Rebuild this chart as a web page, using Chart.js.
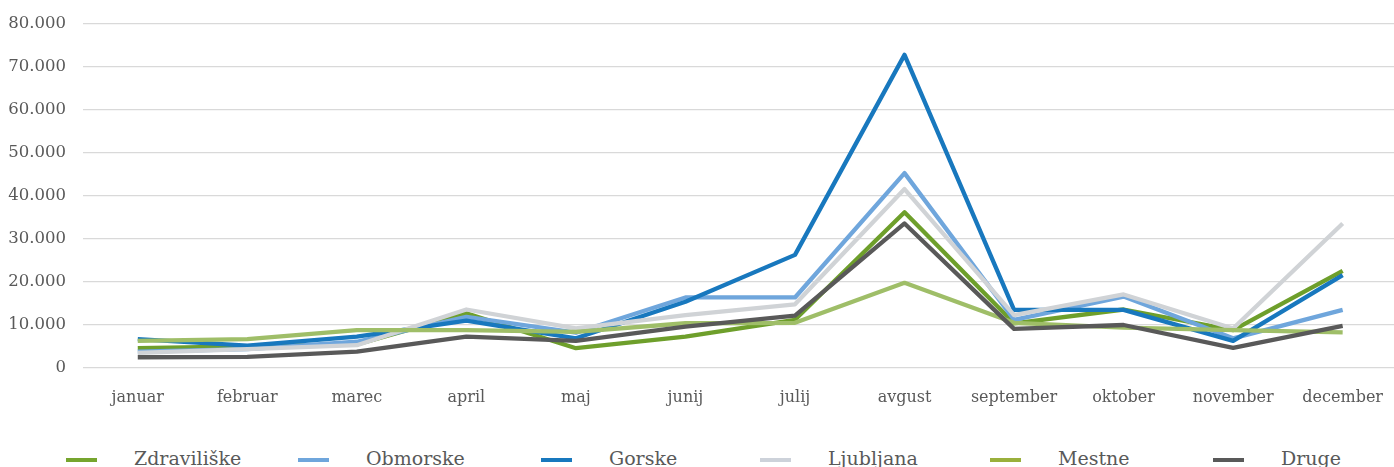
<!DOCTYPE html>
<html lang="sl">
<head>
  <meta charset="UTF-8">
  <title>Prenočitve po vrstah občin</title>
  <script src="https://cdn.jsdelivr.net/npm/chart.js"></script>
  <style>
    body {
      margin: 0;
      width: 1394px;
      height: 467px;
      overflow: hidden;
      background: #fff;
      font-family: "DejaVu Serif", serif;
      position: relative;
    }
    #chartBox {
      position: absolute;
      left: 0;
      top: -3px;
      width: 1403px;
      height: 422px;
    }
    /* legend row under the plot */
    .legend {
      position: absolute;
      left: 0;
      top: 444px;
      width: 1394px;
      height: 30px;
    }
    .legend .item {
      position: absolute;
      top: 0;
      display: flex;
      align-items: center;
      height: 28px;
      color: #595959;
      font-size: 19px;
      white-space: nowrap;
    }
    .legend .swatch {
      width: 31px;
      height: 4px;
      margin-right: 37px;
      margin-top: 4px;
    }
  </style>
</head>
<body>
  <div id="chartBox">
    <canvas id="lineChart" width="1403" height="422"></canvas>
  </div>
  <div class="legend" id="legend"></div>

  <script>
    // months on the x axis
    const months = ['januar', 'februar', 'marec', 'april', 'maj', 'junij',
                    'julij', 'avgust', 'september', 'oktober', 'november', 'december'];

    // overnight stays per type of municipality
    const zdraviliske = [4600, 5000, 5500, 12700, 4600, 7300, 11200, 36200, 10400, 13600, 8800, 22600];
    const obmorske    = [3800, 4400, 6100, 11900, 8200, 16400, 16400, 45300, 11200, 16600, 6900, 13500];
    const gorske      = [6700, 5200, 7300, 11000, 6900, 15400, 26300, 72800, 13500, 13500, 6300, 21600];
    const ljubljana   = [3500, 4400, 5300, 13600, 9200, 12300, 14800, 41600, 12300, 17100, 9200, 33600];
    const mestne      = [6300, 6700, 8800, 8800, 8400, 10400, 10500, 19800, 10500, 9400, 8800, 8300];
    const druge       = [2500, 2600, 3800, 7300, 6300, 9600, 12200, 33600, 9100, 10000, 4700, 9800];

    const seriesNames = ['Zdraviliške', 'Obmorske', 'Gorske', 'Ljubljana', 'Mestne', 'Druge'];
    const seriesData = [zdraviliske, obmorske, gorske, ljubljana, mestne, druge];
    const lineColors = ['#6E9F2B', '#6FA6DC', '#1878BE', '#D0D3D6', '#9FBE68', '#595959'];
    const legendColors = ['#76A52E', '#6FA6DC', '#1878BE', '#CDD2DA', '#9AB03C', '#595959'];
    const legendLeft = [66, 298, 541, 760, 990, 1213];
    const yTicks = [0, 10000, 20000, 30000, 40000, 50000, 60000, 70000, 80000];

    function fmt(v) {
      return String(v).replace(/\B(?=(\d{3})+(?!\d))/g, '.');
    }

    const datasets = seriesNames.map((name, i) => ({
      label: name,
      data: seriesData[i],
      borderColor: lineColors[i],
      backgroundColor: lineColors[i],
      borderWidth: 4.3,
      borderJoinStyle: 'round',
      pointRadius: 0,
      tension: 0,
      fill: false,
      // later series sit on top, like the original workbook
      order: seriesNames.length - i
    }));

    const ctx = document.getElementById('lineChart').getContext('2d');
    new Chart(ctx, {
      type: 'line',
      data: { labels: months, datasets: datasets },
      options: {
        responsive: false,
        animation: false,
        devicePixelRatio: 1,
        layout: { padding: { top: 14, left: 0, right: 0, bottom: 0 } },
        plugins: {
          legend: { display: false },
          tooltip: { enabled: false }
        },
        scales: {
          x: {
            offset: true,
            grid: { display: false, drawTicks: false },
            border: { display: false },
            ticks: {
              color: '#595959',
              font: { family: 'DejaVu Serif', size: 16 },
              padding: 20,
              maxRotation: 0,
              autoSkip: false
            },
            afterFit: (scale) => { scale.height = 51; }
          },
          y: {
            min: 0,
            max: 80000,
            afterBuildTicks: (scale) => { scale.ticks = yTicks.map(v => ({ value: v })); },
            grid: { color: '#D9D9D9', lineWidth: 1.3, drawTicks: false },
            border: { display: false },
            ticks: {
              color: '#595959',
              font: { family: 'DejaVu Serif', size: 16.5 },
              padding: 17,
              callback: (v) => fmt(v)
            },
            afterFit: (scale) => { scale.width = 83; }
          }
        }
      }
    });

    // legend entries along the bottom row
    const legend = document.getElementById('legend');
    seriesNames.forEach((name, i) => {
      const item = document.createElement('div');
      item.className = 'item';
      item.style.left = legendLeft[i] + 'px';
      const sw = document.createElement('span');
      sw.className = 'swatch';
      sw.style.background = legendColors[i];
      const txt = document.createElement('span');
      txt.textContent = name;
      item.appendChild(sw);
      item.appendChild(txt);
      legend.appendChild(item);
    });
  </script>
</body>
</html>
